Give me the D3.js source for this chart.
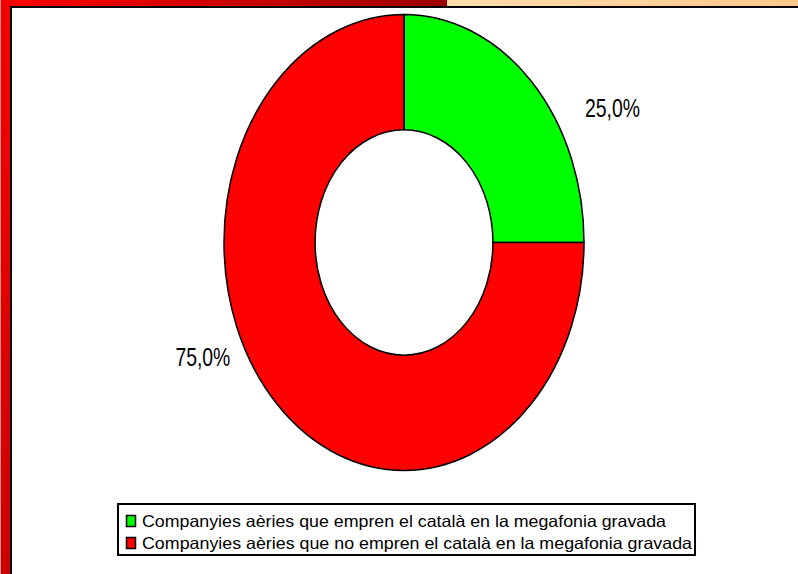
<!DOCTYPE html>
<html>
<head>
<meta charset="utf-8">
<script src="https://cdn.jsdelivr.net/npm/d3@7"></script>
<style>
html,body{margin:0;padding:0;background:#fff;overflow:hidden;}
svg{display:block;}
</style>
</head>
<body>
<svg id="chart" width="798" height="574"></svg>
<script>
// ---- data ----
const categories = [
  "Companyies aèries que empren el català en la megafonia gravada",
  "Companyies aèries que no empren el català en la megafonia gravada"
];
const values = [25.0, 75.0];
const valueLabels = ["25,0%", "75,0%"];
const colors = ["#00FF00", "#FF0000"];

// ---- layout ----
const W = 798, H = 574;
const cx = 404, cy = 242.5, rx = 180, ry = 228;
const innerRatio = 0.494;
const labelPlacement = [{shift: 18, r: 1.30}, {shift: 20.8, r: 1.225}];

const svg = d3.select("#chart");
const defs = svg.append("defs");

const gTop = defs.append("linearGradient").attr("id","gTop").attr("x1","0").attr("x2","1").attr("y1","0").attr("y2","0");
gTop.append("stop").attr("offset","0").attr("stop-color","#FF0000");
gTop.append("stop").attr("offset","1").attr("stop-color","#9C0000");
const gBeige = defs.append("linearGradient").attr("id","gBeige").attr("x1","0").attr("x2","1");
gBeige.append("stop").attr("offset","0").attr("stop-color","#FFDCAC");
gBeige.append("stop").attr("offset","1").attr("stop-color","#FFC88C");
const gLeft = defs.append("linearGradient").attr("id","gLeft").attr("x1","0").attr("x2","0").attr("y1","0").attr("y2","1");
gLeft.append("stop").attr("offset","0").attr("stop-color","#F40000");
gLeft.append("stop").attr("offset","1").attr("stop-color","#CC0000");

// frame
svg.append("rect").attr("x",0).attr("y",0).attr("width",W).attr("height",H).attr("fill","#fff");
svg.append("rect").attr("x",0).attr("y",0).attr("width",447).attr("height",6).attr("fill","url(#gTop)");
svg.append("rect").attr("x",447).attr("y",0).attr("width",W-447).attr("height",6).attr("fill","url(#gBeige)");
svg.append("rect").attr("x",0).attr("y",0).attr("width",10).attr("height",H).attr("fill","url(#gLeft)");
svg.append("rect").attr("x",0).attr("y",0).attr("width",1).attr("height",H).attr("fill","#E89090");
svg.append("rect").attr("x",10).attr("y",6).attr("width",W-10).attr("height",2).attr("fill","#000");
svg.append("rect").attr("x",10).attr("y",6).attr("width",2).attr("height",H-6).attr("fill","#000");

// donut
const pie = d3.pie().sort(null).value(d => d)(values);
const arc = d3.arc().outerRadius(rx).innerRadius(rx*innerRatio);
const donut = svg.append("g").attr("transform", `translate(${cx},${cy}) scale(1,${ry/rx})`);
donut.selectAll("path").data(pie).join("path")
  .attr("d", arc)
  .attr("fill", (d,i) => colors[i])
  .attr("stroke", "#000")
  .attr("stroke-width", 1.5)
  .attr("vector-effect", "non-scaling-stroke");

// value labels
svg.selectAll("text.val").data(pie).join("text")
  .attr("class","val")
  .each(function(d,i){
    const a = (d.startAngle + d.endAngle)/2 + labelPlacement[i].shift*Math.PI/180;
    const r = labelPlacement[i].r;
    d3.select(this)
      .attr("x", cx + r*rx*Math.sin(a) - 27.5)
      .attr("y", cy - r*ry*Math.cos(a) + 9.5);
  })
  .attr("font-family","'Liberation Sans Narrow','Liberation Sans',Arial,sans-serif")
  .attr("font-size", 26)
  .attr("textLength", 55)
  .attr("lengthAdjust","spacingAndGlyphs")
  .attr("fill","#000")
  .text((d,i) => valueLabels[i]);

// legend
const lg = svg.append("g");
lg.append("rect").attr("x",118).attr("y",504).attr("width",577).attr("height",51)
  .attr("fill","#fff").attr("stroke","#000").attr("stroke-width",2);
const lineY = [527, 549];
const textLen = [524, 550];
categories.forEach((c,i) => {
  lg.append("rect").attr("x",126.5).attr("y",lineY[i]-11.5).attr("width",9).attr("height",11)
    .attr("fill",colors[i]).attr("stroke","#000").attr("stroke-width",1.5);
  lg.append("text").attr("x",142).attr("y",lineY[i])
    .attr("font-family","'Liberation Sans',Arial,sans-serif")
    .attr("font-size",16.5)
    .attr("textLength",textLen[i])
    .attr("lengthAdjust","spacingAndGlyphs")
    .attr("fill","#000")
    .text(c);
});
</script>
</body>
</html>
